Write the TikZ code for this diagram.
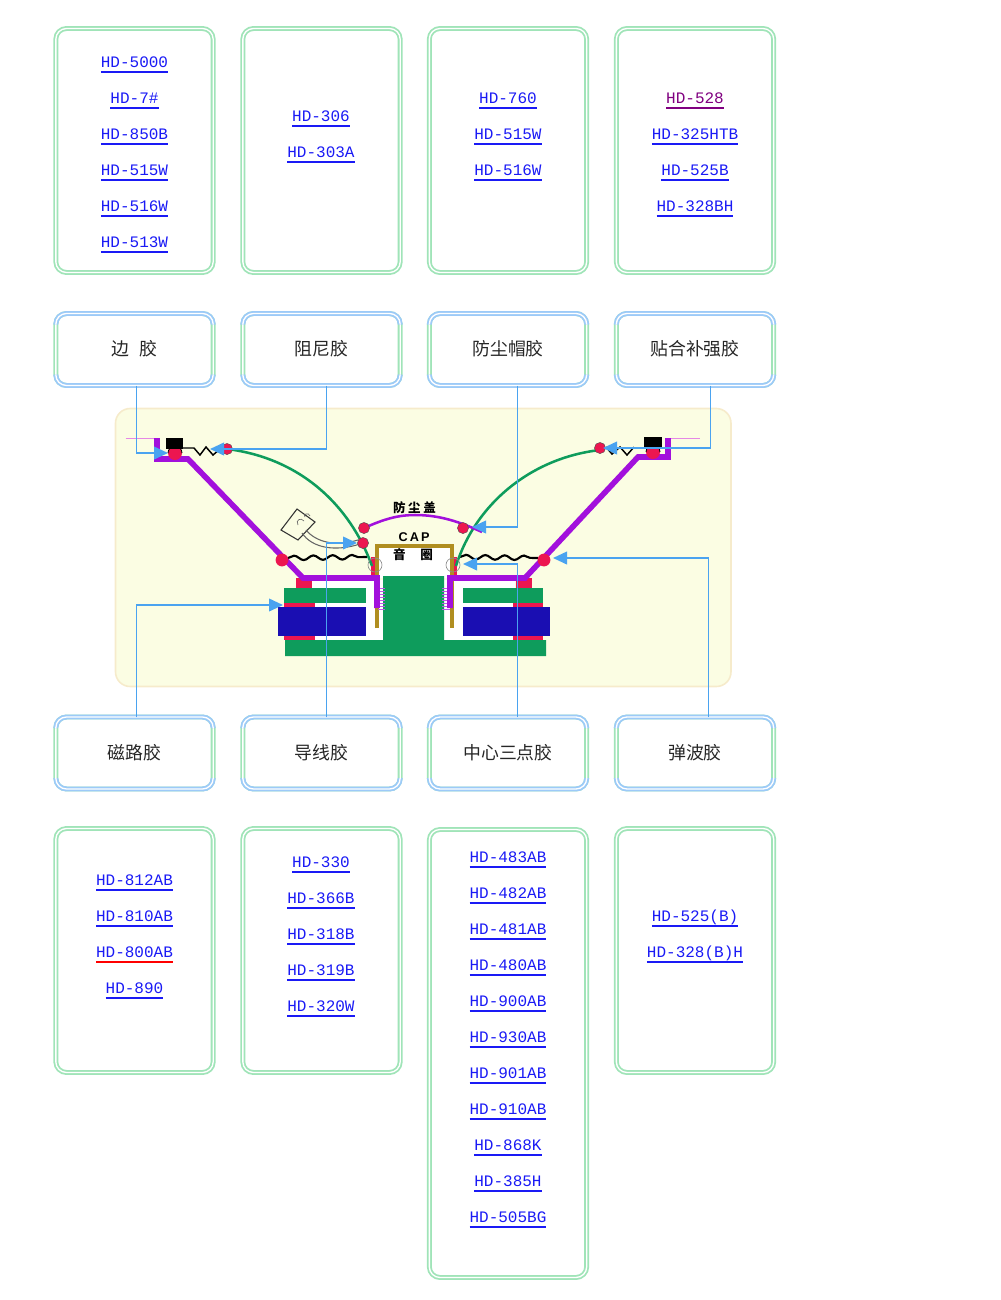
\documentclass[tikz,border=0pt]{standalone}
\usepackage{fontspec}
\usetikzlibrary{calc,arrows.meta,decorations.pathmorphing}
\newfontfamily\cjk{Noto Sans CJK SC}
\newfontfamily\hdfont{Liberation Mono}
\newfontfamily\capfont{Liberation Sans}
\definecolor{linkblue}{HTML}{1A1AF5}
\definecolor{linkpurple}{HTML}{800080}
\definecolor{boxgreen}{HTML}{A0E4B8}
\definecolor{boxblue}{HTML}{9CCAF8}
\definecolor{conn}{HTML}{4AA3F0}
\definecolor{panelfill}{HTML}{FBFDE3}
\definecolor{paneledge}{HTML}{F6EBCB}
\definecolor{cone}{HTML}{A210DC}
\definecolor{redpart}{HTML}{EC1650}
\definecolor{greenpart}{HTML}{0E9C5C}
\definecolor{bluepart}{HTML}{1A0EB2}
\definecolor{former}{HTML}{B08E20}
\definecolor{pinkline}{HTML}{E588E5}
\newcommand{\hdlink}[2][linkblue]{\leavevmode\setbox0\hbox{\color{linkblue}#2}\rlap{\color{#1}\rule[-3.7pt]{\wd0}{1.3pt}}\box0}
\newcommand{\hdlinkp}[1]{\leavevmode\setbox0\hbox{\color{linkpurple}#1}\rlap{\color{linkpurple}\rule[-3.7pt]{\wd0}{1.3pt}}\box0}
\newcommand{\lifted}[1]{\raisebox{2pt}{#1}}
\tikzset{
 x=0.75pt,y=-0.75pt,
 pbox/.style={rectangle,rounded corners=8pt,draw=boxgreen,double=white,line width=1.35pt,double distance=1pt,outer sep=0pt,inner sep=0pt,minimum width=118pt},
 lbl/.style={pbox,minimum height=54pt,font=\cjk\fontsize{13.4pt}{15pt}\selectfont,text=black!85},
 capstroke/.style={draw=boxblue,double=white,line width=1.35pt,double distance=1pt,rounded corners=8pt},
 hdlist/.style={anchor=north,align=center,inner sep=0pt,font=\hdfont\fontsize{12pt}{27pt}\selectfont},
 connline/.style={draw=conn,line width=1.3pt,-{Triangle[length=10.5pt,width=9.5pt,fill=conn]}},
 purpline/.style={draw=cone,line width=4.2pt,line join=miter},
 dot/.style={circle,fill=redpart,draw=black!70,line width=.3pt,inner sep=0pt,minimum size=8.4pt},
 bigdot/.style={circle,fill=redpart,inner sep=0pt,minimum size=9.6pt},
 wave/.style={draw=black,line width=1.6pt,decorate,decoration={snake,amplitude=1.7pt,segment length=14.5pt}},
 greenwire/.style={draw=greenpart,line width=1.9pt},
 ring/.style={draw=black!45,line width=.5pt},
}
\begin{document}
\begin{tikzpicture}
\useasboundingbox (0,0) rectangle (1000,1300);
% panel
\filldraw[fill=panelfill,draw=paneledge,line width=1.2pt,rounded corners=11pt] (115.5,408.5) rectangle (731,686.5);

% white interior areas
\fill[white] (312,580) rectangle (383,640);
\fill[white] (444,580) rectangle (515,640);
\fill[white] (377,546) rectangle (452,578);
% green magnet structure
\fill[greenpart] (285,640) -- (383,640) -- (383,576) -- (444,576) -- (444,640) -- (546,640) -- (546,656) -- (285,656) -- cycle;
\fill[greenpart] (284,588) rectangle (366,603);
\fill[greenpart] (463,588) rectangle (543,603);
% red parts
\fill[redpart] (296,578) rectangle (312,588);
\fill[redpart] (516,578) rectangle (532,588);
\fill[redpart] (284,603) rectangle (315,607);
\fill[redpart] (513,603) rectangle (543,607);
\fill[redpart] (284,636) rectangle (315,640);
\fill[redpart] (513,636) rectangle (543,640);
\fill[redpart] (370.5,557) rectangle (377,577);
\fill[redpart] (452,557) rectangle (457,577);
% magnets
\fill[bluepart] (278,607) rectangle (366,636);
\fill[bluepart] (463,607) rectangle (550,636);
% former
\draw[former,line width=2.3pt] (377,628) -- (377,546) -- (452,546) -- (452,628);
% coil hatch
\foreach \yy in {588,591,...,611}{
 \draw[cone!70,line width=.5pt] (378,\yy) -- (385,\yy);
 \draw[cone!70,line width=.5pt] (442,\yy) -- (450,\yy);
}
% cone
\draw[pinkline,line width=1pt] (125.5,438.5) -- (155,438.5);
\draw[pinkline,line width=1pt] (671,438.5) -- (700,438.5);
\draw[purpline] (157,438) -- (157,459) -- (188,459) -- (303,578) -- (377,578) -- (377,608);
\draw[purpline] (668,438) -- (668,457) -- (638,457) -- (525,578) -- (450,578) -- (450,608);
% roll surround parts
\fill[redpart] (175,453) circle[radius=7];
\fill[redpart] (653,452) circle[radius=7];
\draw[black,line width=.6pt] (168,453) arc[start angle=180,end angle=360,radius=7];
\draw[black,line width=.6pt] (646,452) arc[start angle=180,end angle=360,radius=7];
\fill[black] (166,438) rectangle (183,449);
\fill[black] (644,437) rectangle (662,448);
% small springs
\draw[black,line width=1.1pt] (183,448) -- (194,448) -- (200,455) -- (206,447) -- (213,455) -- (220,449);
\draw[black,line width=1.1pt] (606,447) -- (612,454) -- (620,447) -- (627,455) -- (634,447);
% waves
\draw[wave] (288,558) -- (367,557);
\draw[wave] (460,557) -- (538,558);
% terminal and lead wires
\draw[black!80,line width=.8pt,fill=panelfill] (297,509) -- (315,522) -- (298,540) -- (281,530) -- cycle;
\draw[black!60,line width=.5pt] (298,525) .. controls (295,520) and (301,517) .. (304,521);
\draw[black!60,line width=.5pt] (305,517) .. controls (302,514) and (309,512) .. (310,516);
\draw[black!60,line width=.8pt] (302,533) .. controls (312,548) and (335,552) .. (360,544);
\draw[black!60,line width=.8pt] (306,530) .. controls (316,542) and (335,547) .. (358,540);
% voice-coil leads & surrounds
\draw[greenwire] (227,449) .. controls (300,458) and (350,505) .. (372,566);
\draw[greenwire] (600,450) .. controls (530,458) and (475,505) .. (456,566);
% dust cap
\draw[cone,line width=1.9pt] (360,530) .. controls (385,518) and (400,515) .. (415,515) .. controls (440,515) and (460,522) .. (482,532);
% dots
\node[dot] (d1) at (227,449) {};
\node[dot] (d2) at (600,448) {};
\node[dot] (d3) at (364,528) {};
\node[dot] (d4) at (463,528) {};
\node[dot] (d5) at (363,543) {};
\node[bigdot] (d6) at (282,560) {};
\node[bigdot] (d7) at (544,560) {};
\draw[ring] (375,565) circle[radius=7];
\draw[ring] (453,565) circle[radius=7];
% speaker labels
\node[font=\cjk\bfseries\fontsize{9.4pt}{10pt}\selectfont,inner sep=0pt] (dustlabel) at (414.5,508) {防\hspace{2pt}尘\hspace{2pt}盖};
\node[font=\capfont\bfseries\fontsize{9.5pt}{10pt}\selectfont,inner sep=0pt] (caplabel) at (414,537) {C\,A\,P};
\node[font=\cjk\bfseries\fontsize{9.4pt}{10pt}\selectfont,inner sep=0pt] (coillabel) at (413,555) {音\hspace{11pt}圈};

% product boxes
\node[pbox,minimum height=183pt] (p1) at (134.5,150.5) {};
\node[pbox,minimum height=183pt] (p2) at (321.5,150.5) {};
\node[pbox,minimum height=183pt] (p3) at (508,150.5) {};
\node[pbox,minimum height=183pt] (p4) at (695,150.5) {};
\node[pbox,minimum height=183pt] (q1) at (134.5,950.5) {};
\node[pbox,minimum height=183pt] (q2) at (321.5,950.5) {};
\node[pbox,minimum height=336pt] (q3) at (508,1053.5) {};
\node[pbox,minimum height=183pt] (q4) at (695,950.5) {};
% label boxes
\node[lbl] (a1) at (134.5,349.5) {\lifted{边\hspace{7pt}胶}};
\node[lbl] (a2) at (321.5,349.5) {\lifted{阻尼胶}};
\node[lbl] (a3) at (508,349.5) {\lifted{防尘帽胶}};
\node[lbl] (a4) at (695,349.5) {\lifted{贴合补强胶}};
\node[lbl] (b1) at (134.5,753) {\lifted{磁路胶}};
\node[lbl] (b2) at (321.5,753) {\lifted{导线胶}};
\node[lbl] (b3) at (508,753) {\lifted{中心三点胶}};
\node[lbl] (b4) at (695,753) {\lifted{弹波胶}};
\foreach \n in {a1,a2,a3,a4,b1,b2,b3,b4}{
 \draw[capstroke] ($(\n.north west)+(0,11)$) -- (\n.north west) -- (\n.north east) -- ($(\n.north east)+(0,11)$);
 \draw[capstroke] ($(\n.south west)+(0,-11)$) -- (\n.south west) -- (\n.south east) -- ($(\n.south east)+(0,-11)$);
}
% lists
\node[hdlist] (l1) at (134.5,57) {\hdlink{HD-5000}\\\hdlink{HD-7\#}\\\hdlink{HD-850B}\\\hdlink{HD-515W}\\\hdlink{HD-516W}\\\hdlink{HD-513W}};
\node[hdlist] (l2) at (321,111) {\hdlink{HD-306}\\\hdlink{HD-303A}};
\node[hdlist] (l3) at (508,93) {\hdlink{HD-760}\\\hdlink{HD-515W}\\\hdlink{HD-516W}};
\node[hdlist] (l4) at (695,93) {\hdlinkp{HD-528}\\\hdlink{HD-325HTB}\\\hdlink{HD-525B}\\\hdlink{HD-328BH}};
\node[hdlist] (l5) at (134.5,875) {\hdlink{HD-812AB}\\\hdlink{HD-810AB}\\\hdlink[red]{HD-800AB}\\\hdlink{HD-890}};
\node[hdlist] (l6) at (321,857) {\hdlink{HD-330}\\\hdlink{HD-366B}\\\hdlink{HD-318B}\\\hdlink{HD-319B}\\\hdlink{HD-320W}};
\node[hdlist] (l7) at (508,852) {\hdlink{HD-483AB}\\\hdlink{HD-482AB}\\\hdlink{HD-481AB}\\\hdlink{HD-480AB}\\\hdlink{HD-900AB}\\\hdlink{HD-930AB}\\\hdlink{HD-901AB}\\\hdlink{HD-910AB}\\\hdlink{HD-868K}\\\hdlink{HD-385H}\\\hdlink{HD-505BG}};
\node[hdlist] (l8) at (695,910) {\hdlink{HD-525(B)}\\\hdlink{HD-328(B)H}};

% connector ends
\coordinate (t1) at (168,453);
\coordinate (t2) at (210,449);
\coordinate (t3) at (472,527);
\coordinate (t4) at (603,448);
\coordinate (t5) at (283,605);
\coordinate (t6) at (357,543);
\coordinate (t7) at (463,564);
\coordinate (t8) at (553,558);
\draw[connline] ([xshift=1.4pt]a1.south) |- (t1);
\draw[connline] ([xshift=3.7pt]a2.south) |- (t2);
\draw[connline] ([xshift=7.2pt]a3.south) |- (t3);
\draw[connline] ([xshift=11.7pt]a4.south) |- (t4);
\draw[connline] ([xshift=1.4pt]b1.north) |- (t5);
\draw[connline] ([xshift=3.7pt]b2.north) |- (t6);
\draw[connline] ([xshift=7.2pt]b3.north) |- (t7);
\draw[connline] ([xshift=10.2pt]b4.north) |- (t8);
\end{tikzpicture}
\end{document}
